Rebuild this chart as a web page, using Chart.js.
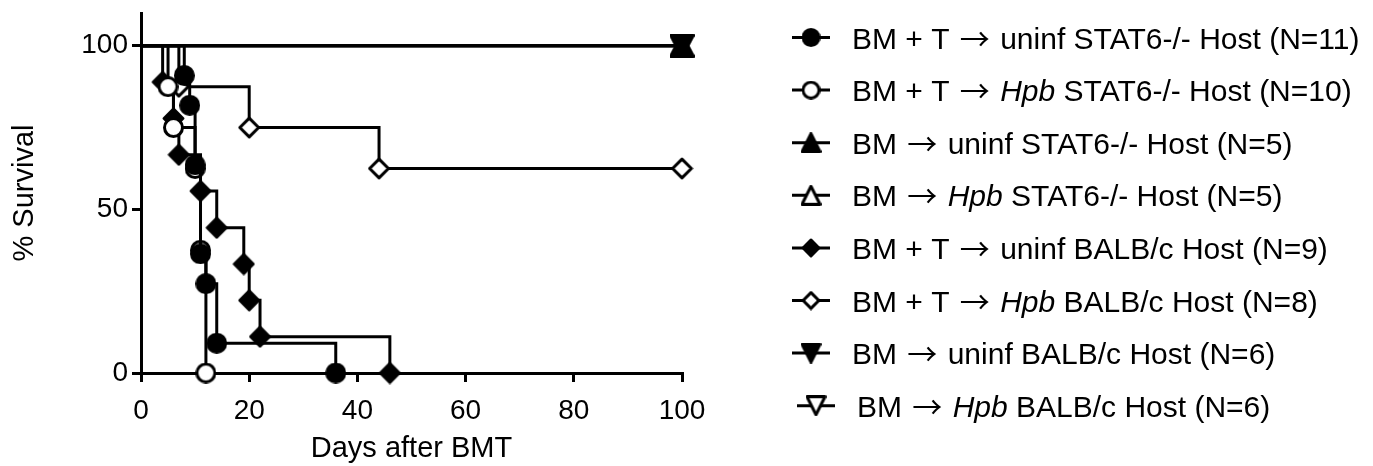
<!DOCTYPE html>
<html>
<head>
<meta charset="utf-8">
<script src="https://cdn.jsdelivr.net/npm/chart.js@4.4.1/dist/chart.umd.min.js"></script>
<style>
  html, body { margin: 0; padding: 0; background: #fff; }
  #wrap { width: 1373px; height: 466px; position: relative; }
</style>
</head>
<body>
<div id="wrap"><canvas id="survChart"></canvas></div>
<script>
// --- Data ---
const xTicks = [0, 20, 40, 60, 80, 100];
const yTicks = [0, 50, 100];

// BM + T -> uninf STAT6-/- (filled circle)
const daysA = [0, 8, 9, 10, 11, 12, 14, 36];
const survA = [100, 90.9, 81.8, 63.6, 36.4, 27.3, 9.1, 0];
// BM + T -> Hpb STAT6-/- (open circle)
const daysB = [0, 5, 6, 10, 11, 12];
const survB = [100, 87.5, 75, 62.5, 37.5, 0];
// BM -> uninf STAT6-/- (filled triangle)
const daysC = [0, 100];
const survC = [100, 100];
// BM -> Hpb STAT6-/- (open triangle)
const daysD = [0, 100];
const survD = [100, 100];
// BM + T -> uninf BALB/c (filled diamond)
const daysE = [0, 4, 6, 7, 11, 14, 19, 20, 22, 46];
const survE = [100, 88.9, 77.8, 66.7, 55.6, 44.4, 33.3, 22.2, 11.1, 0];
// BM + T -> Hpb BALB/c (open diamond)
const daysF = [0, 7, 20, 44, 100];
const survF = [100, 87.5, 75, 62.5, 62.5];
// BM -> uninf BALB/c (filled down triangle)
const daysG = [0, 100];
const survG = [100, 100];
// BM -> Hpb BALB/c (open down triangle)
const daysH = [0, 100];
const survH = [100, 100];

// *...* = italic
const legendLabels = [
    'BM + T \u2192 uninf STAT6-/- Host (N=11)',
    'BM + T \u2192 *Hpb* STAT6-/- Host (N=10)',
    'BM \u2192 uninf STAT6-/- Host (N=5)',
    'BM \u2192 *Hpb* STAT6-/- Host (N=5)',
    'BM + T \u2192 uninf BALB/c Host (N=9)',
    'BM + T \u2192 *Hpb* BALB/c Host (N=8)',
    'BM \u2192 uninf BALB/c Host (N=6)',
    'BM \u2192 *Hpb* BALB/c Host (N=6)'
];

const FONT = '"Liberation Sans", Arial, Helvetica, sans-serif';
const ARROW_FONT = '"Noto Sans CJK JP", "DejaVu Sans", sans-serif';
Chart.defaults.font.family = FONT;
Chart.defaults.color = '#000';

// --- Marker images (GraphPad style, centred on bounding box) ---
function makeMarker(shape, filled, w, h) {
    const c = document.createElement('canvas');
    c.width = w;
    c.height = h;
    const g = c.getContext('2d');
    const cx = w / 2, cy = h / 2, p = 1.5;
    g.beginPath();
    if (shape === 'circle') {
        g.arc(cx, cy, w / 2 - p, 0, Math.PI * 2);
    } else if (shape === 'diamond') {
        g.moveTo(cx, p + 0.6);
        g.lineTo(w - p - 0.6, cy);
        g.lineTo(cx, h - p - 0.6);
        g.lineTo(p + 0.6, cy);
        g.closePath();
    } else if (shape === 'triUp') {
        g.moveTo(cx, p);
        g.lineTo(w - p, h - p);
        g.lineTo(p, h - p);
        g.closePath();
    } else {
        g.moveTo(p, p);
        g.lineTo(w - p, p);
        g.lineTo(cx, h - p);
        g.closePath();
    }
    g.fillStyle = filled ? '#000' : '#fff';
    g.fill();
    g.lineWidth = 3;
    g.lineJoin = 'round';
    g.strokeStyle = '#000';
    g.stroke();
    return c;
}

const shapes = [
    ['circle', true], ['circle', false], ['triUp', true], ['triUp', false],
    ['diamond', true], ['diamond', false], ['triDown', true], ['triDown', false]
];
function markerSize(shape, big) {
    if (shape === 'circle') return big ? [21, 21] : [19, 19];
    if (shape === 'diamond') return big ? [23, 23] : [20, 20];
    return big ? [25, 24] : [21, 21];
}
const plotMarkers = shapes.map(s => makeMarker(s[0], s[1], ...markerSize(s[0], true)));
const legendMarkers = shapes.map(s => makeMarker(s[0], s[1], ...markerSize(s[0], false)));

const allDays = [daysA, daysB, daysC, daysD, daysE, daysF, daysG, daysH];
const allSurv = [survA, survB, survC, survD, survE, survF, survG, survH];

const datasets = allDays.map((days, i) => ({
    label: legendLabels[i].replace(/\*/g, ''),
    data: days.map((d, k) => ({ x: d, y: allSurv[i][k] })),
    stepped: 'before',
    borderColor: '#000',
    borderWidth: 3,
    fill: false,
    clip: false,
    pointStyle: plotMarkers[i],
    pointRadius: days.map((d, k) => (k === 0 ? 0 : 10)),
    pointHoverRadius: days.map((d, k) => (k === 0 ? 0 : 10))
}));

// --- Legend drawn to the right of the plot ---
const sideLegend = {
    id: 'sideLegend',
    afterDraw(chart) {
        const ctx = chart.ctx;
        ctx.save();
        ctx.fillStyle = '#000';
        ctx.textBaseline = 'alphabetic';
        legendLabels.forEach((label, i) => {
            const y = 37.5 + i * 52.6;
            const dx = i === 7 ? 5 : 0;
            ctx.strokeStyle = '#000';
            ctx.lineWidth = 3;
            ctx.beginPath();
            ctx.moveTo(792 + dx, y);
            ctx.lineTo(830 + dx, y);
            ctx.stroke();
            const m = legendMarkers[i];
            ctx.drawImage(m, 811 + dx - m.width / 2, y - m.height / 2);
            let x = 852 + dx;
            label.split('*').forEach((part, k) => {
                part.split(/(\u2192)/).forEach(bit => {
                    if (!bit) return;
                    if (bit === '\u2192') {
                        ctx.font = '30px ' + ARROW_FONT;
                        ctx.fillText(bit, x + 2, y + 12);
                        x += ctx.measureText(bit).width + 4;
                        return;
                    }
                    ctx.font = (k % 2 ? 'italic ' : '') + '30px ' + FONT;
                    ctx.fillText(bit, x, y + 11);
                    x += ctx.measureText(bit).width;
                });
            });
        });
        ctx.restore();
    }
};

const axisGrid = {
    drawOnChartArea: false,
    drawTicks: true,
    tickLength: 9,
    tickColor: '#000',
    tickWidth: 3,
    color: '#000',
    lineWidth: 3
};

new Chart(document.getElementById('survChart'), {
    type: 'line',
    data: { datasets: datasets },
    options: {
        responsive: true,
        maintainAspectRatio: false,
        animation: false,
        events: [],
        layout: { padding: { left: 0, top: 11, right: 691, bottom: 0 } },
        plugins: {
            legend: { display: false },
            tooltip: { enabled: false }
        },
        scales: {
            x: {
                type: 'linear',
                min: 0,
                max: 100,
                afterBuildTicks: s => { s.ticks = xTicks.map(v => ({ value: v })); },
                afterFit: s => { s.height = 93; s.paddingLeft = 0; s.paddingRight = 0; },
                grid: axisGrid,
                border: { display: true, color: '#000', width: 3 },
                ticks: { font: { size: 28 }, color: '#000', padding: 12, maxRotation: 0 },
                title: {
                    display: true,
                    text: 'Days after BMT',
                    font: { size: 29 },
                    color: '#000',
                    padding: { top: 0, bottom: 0 }
                }
            },
            y: {
                type: 'linear',
                min: 0,
                max: 110,
                afterBuildTicks: s => { s.ticks = yTicks.map(v => ({ value: v })); },
                afterFit: s => { s.width = 141; s.paddingTop = 0; s.paddingBottom = 0; },
                grid: axisGrid,
                border: { display: true, color: '#000', width: 3 },
                ticks: { font: { size: 28 }, color: '#000', padding: 4 },
                title: {
                    display: true,
                    text: '% Survival',
                    font: { size: 29 },
                    color: '#000',
                    padding: { top: 8, bottom: 0 }
                }
            }
        }
    },
    plugins: [sideLegend]
});
</script>
</body>
</html>
